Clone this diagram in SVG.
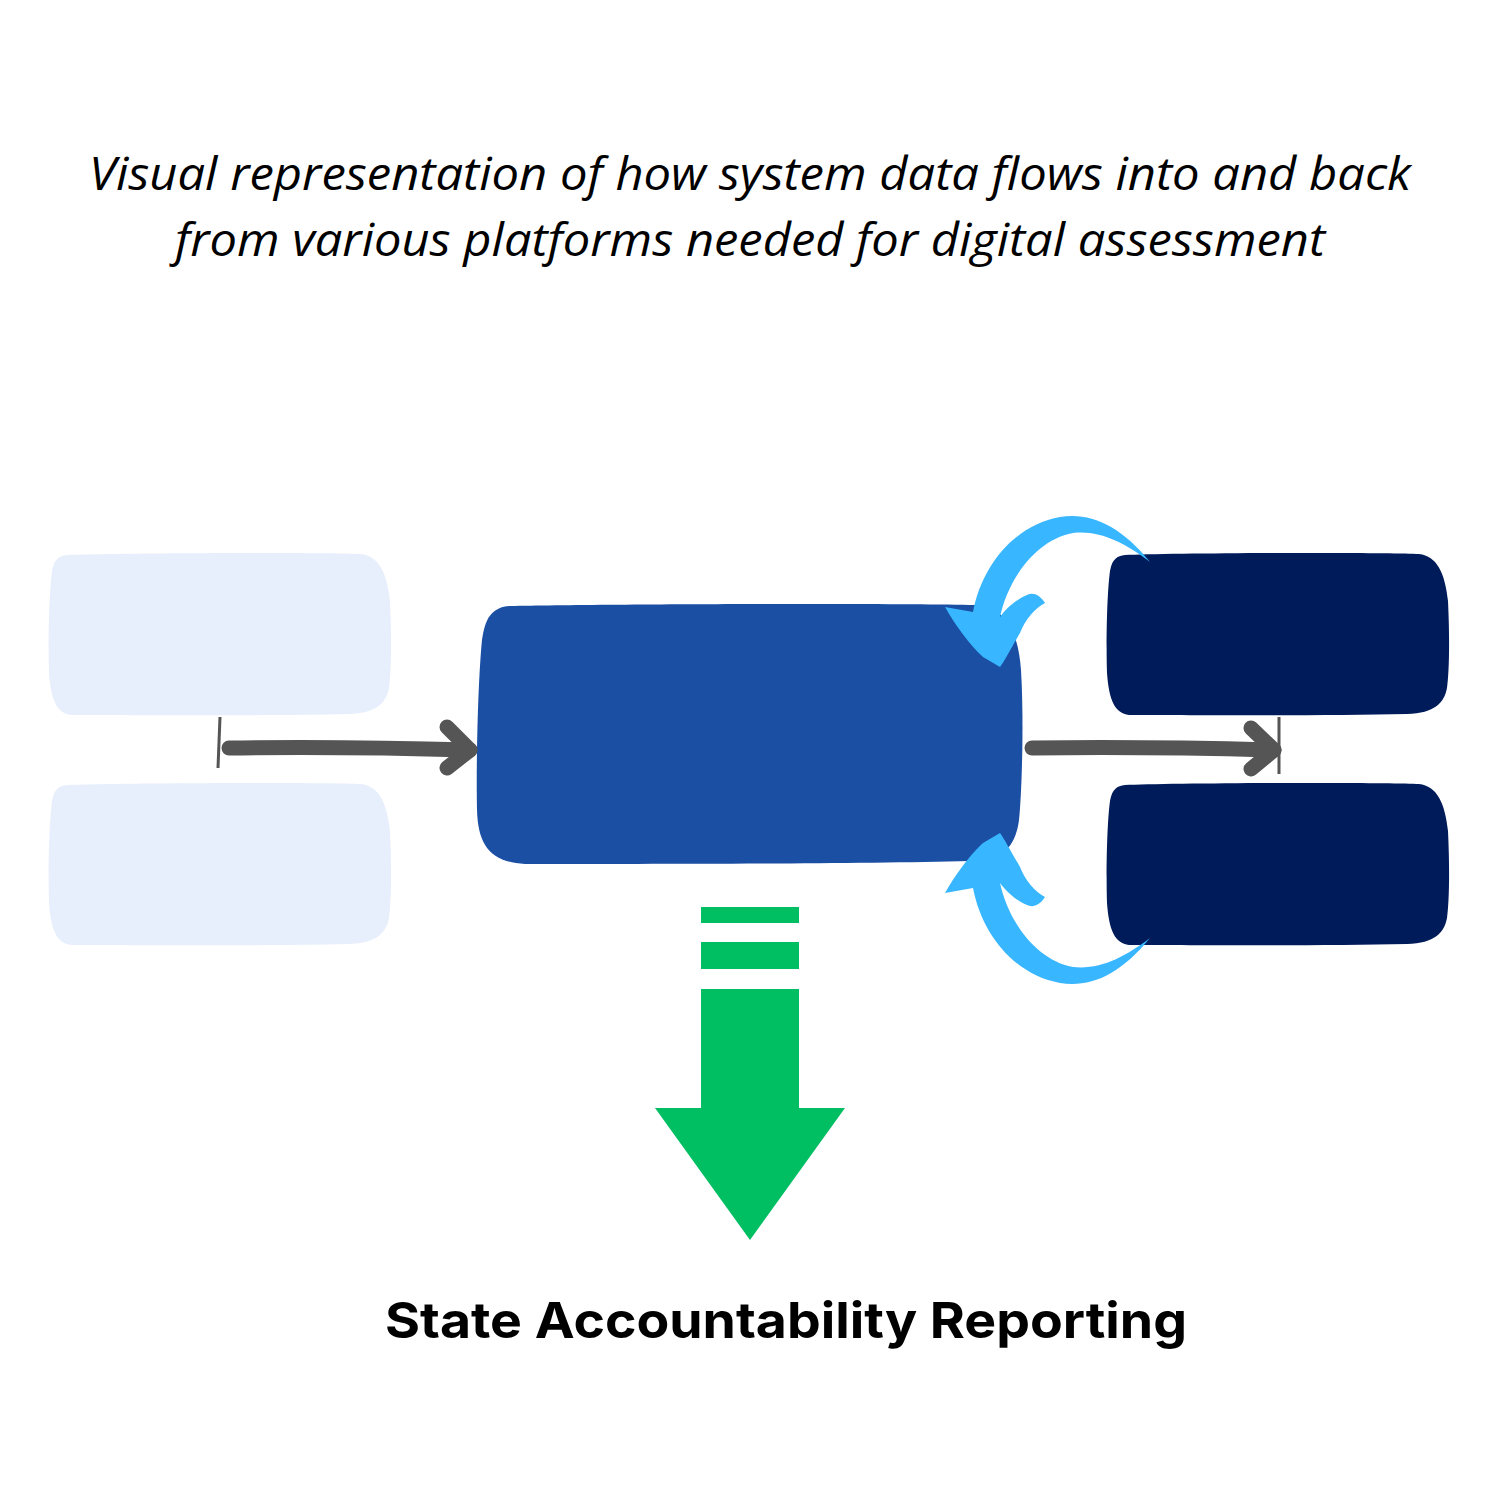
<svg xmlns="http://www.w3.org/2000/svg" width="1500" height="1500" viewBox="0 0 1500 1500">
<style>
.title{font-family:"Open Sans","Liberation Sans",sans-serif;font-style:italic;font-size:45px;fill:#000;}
.label{font-family:Inter,"Liberation Sans",sans-serif;font-weight:700;font-size:50px;fill:#000;}
.light{fill:#E8EFFC;}
.mid{fill:#1A4FA3;}
.dark{fill:#001B5A;}
.conn{stroke:#555;stroke-width:15;stroke-linecap:round;stroke-linejoin:round;fill:none;}
.tick{stroke:#555;stroke-width:3;fill:none;}
.curve{fill:#38B6FF;}
.green{fill:#00BF63;}
</style>
<defs>
<path id="box" d="M18,2 C60,0 280,-1 312,1 C330,3 338,20 341,48 C343,90 342,120 340,135 C337,150 328,160 300,161 C220,163 90,162 22,162 C8,160 2,148 0,120 C-1,90 0,40 3,18 C5,6 10,3 18,2 Z"/>
<path id="bluearrow" d="M1150,562 C1120,525 1090,512 1060,517 C1015,525 982,565 973,612 L945,607 C955,625 970,645 983,657 L1000,667 C1005,660 1010,650 1020,633 C1025,620 1035,608 1045,603 C1040,595 1033,592 1027,595 C1015,600 1005,610 1000,617 C1008,580 1035,540 1073,533 C1100,530 1125,543 1150,562 Z"/>
</defs>
<rect width="1500" height="1500" fill="#fff"/>
<g id="title">
<text class="title" x="750" y="190" text-anchor="middle" textLength="1322" lengthAdjust="spacingAndGlyphs">Visual representation of how system data flows into and back</text>
<text class="title" x="750" y="256" text-anchor="middle" textLength="1150" lengthAdjust="spacingAndGlyphs">from various platforms needed for digital assessment</text>
</g>
<g id="node-left-top"><use href="#box" class="light" transform="translate(49,553)"/></g>
<g id="node-left-bottom"><use href="#box" class="light" transform="translate(49,783)"/></g>
<g id="node-center"><path class="mid" d="M510,606 C600,604 900,603 975,605 C1005,607 1018,630 1021,670 C1024,720 1022,790 1019,820 C1015,850 1000,860 970,861 C850,864 650,864 525,864 C490,862 478,845 477,810 C476,760 478,680 482,640 C485,618 492,607 510,606 Z"/></g>
<g id="node-right-top"><use href="#box" class="dark" transform="translate(1107,553)"/></g>
<g id="node-right-bottom"><use href="#box" class="dark" transform="translate(1107,783)"/></g>
<g id="connectors">
<line class="tick" x1="220" y1="717" x2="218" y2="768"/>
<path class="conn" d="M229,748 C300,747 400,748 470,750"/>
<path class="conn" d="M447,727 L470,750 L447,768"/>
<path class="conn" d="M1032,748 C1100,747 1200,748 1274,750"/>
<path class="conn" d="M1251,728 L1274,750 L1251,769"/>
<line class="tick" x1="1279" y1="717" x2="1279" y2="774"/>
<use href="#bluearrow" class="curve"/>
<use href="#bluearrow" class="curve" transform="translate(0,1500) scale(1,-1)"/>
<g id="report-arrow" class="green">
<rect x="701" y="907" width="98" height="16"/>
<rect x="701" y="942" width="98" height="27"/>
<path d="M701,989 H799 V1108 H845 L750,1240 L655,1108 H701 Z"/>
</g>
</g>
<g id="node-report">
<text class="label" x="786" y="1338" text-anchor="middle" textLength="802" lengthAdjust="spacingAndGlyphs">State Accountability Reporting</text>
</g>
</svg>
